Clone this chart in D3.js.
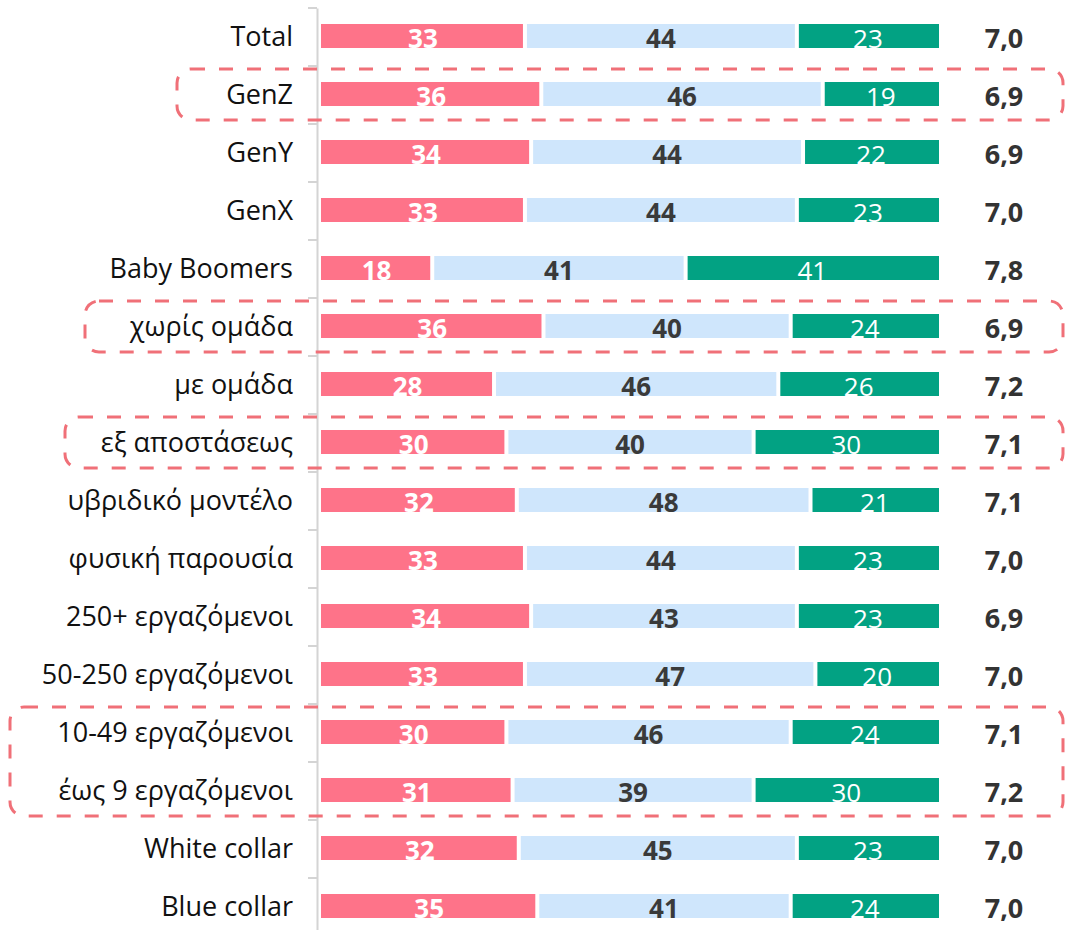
<!DOCTYPE html>
<html>
<head>
<meta charset="utf-8">
<script src="https://cdn.jsdelivr.net/npm/d3@7"></script>
<style>
  body { margin: 0; background: #fff; }
</style>
</head>
<body>
<div id="chart"></div>
<script>
const categories = ['Total', 'GenZ', 'GenY', 'GenX', 'Baby Boomers', 'χωρίς ομάδα', 'με ομάδα',
  'εξ αποστάσεως', 'υβριδικό μοντέλο', 'φυσική παρουσία', '250+ εργαζόμενοι', '50-250 εργαζόμενοι',
  '10-49 εργαζόμενοι', 'έως 9 εργαζόμενοι', 'White collar', 'Blue collar'];
const low = [33, 36, 34, 33, 18, 36, 28, 30, 32, 33, 34, 33, 30, 31, 32, 35];
const mid = [44, 46, 44, 44, 41, 40, 46, 40, 48, 44, 43, 47, 46, 39, 45, 41];
const high = [23, 19, 22, 23, 41, 24, 26, 30, 21, 23, 23, 20, 24, 30, 23, 24];
const scores = [7.0, 6.9, 6.9, 7.0, 7.8, 6.9, 7.2, 7.1, 7.1, 7.0, 6.9, 7.0, 7.1, 7.2, 7.0, 7.0];

// highlighted groups: first and last category, left edge of the box
const highlights = [
  { from: 'GenZ', to: 'GenZ', left: 177 },
  { from: 'χωρίς ομάδα', to: 'χωρίς ομάδα', left: 85 },
  { from: 'εξ αποστάσεως', to: 'εξ αποστάσεως', left: 65 },
  { from: '10-49 εργαζόμενοι', to: 'έως 9 εργαζόμενοι', left: 10 }
];

const width = 1066, height = 930;
const colors = ['#fe7389', '#cfe6fc', '#02a283'];
const textColors = ['#ffffff', '#3a3a3a', '#ffffff'];
const textWeights = ['bold', 'bold', 'normal'];
const font = "'Open Sans', 'Noto Sans', sans-serif";

const svg = d3.select('#chart').append('svg')
  .attr('width', width).attr('height', height)
  .style('font-family', font);

const y = d3.scaleBand().domain(categories).range([8, 936]).padding(0);
const x = d3.scaleLinear().domain([0, 100]).range([321, 939]);
const barH = 24;

const rows = categories.map((c, i) => {
  const vals = [low[i], mid[i], high[i]];
  const sum = d3.sum(vals);
  let acc = 0;
  const segs = vals.map((v, k) => {
    const s = { cat: c, k, v, x0: acc / sum * 100, x1: (acc + v) / sum * 100 };
    acc += v;
    return s;
  });
  return { cat: c, segs, score: scores[i] };
});

// axis
svg.append('g')
  .attr('transform', `translate(317,0)`)
  .call(d3.axisLeft(y).tickSize(0).tickFormat(''))
  .call(g => g.select('.domain').attr('stroke', '#d4d4d4').attr('stroke-width', 2))
  .call(g => g.selectAll('.boundary')
    .data(categories.concat(['end']))
    .join('line')
    .attr('class', 'boundary')
    .attr('x1', -9).attr('x2', 0)
    .attr('y1', (d, i) => i < categories.length ? y(d) : y.range()[1])
    .attr('y2', (d, i) => i < categories.length ? y(d) : y.range()[1])
    .attr('stroke', '#d4d4d4').attr('stroke-width', 2));

// category labels
svg.append('g').selectAll('text')
  .data(categories)
  .join('text')
  .attr('x', 293)
  .attr('y', d => y(d) + y.bandwidth() / 2)
  .attr('dy', '0.35em')
  .attr('text-anchor', 'end')
  .attr('font-size', 27)
  .attr('fill', '#111')
  .text(d => d);

// bars
const rowG = svg.append('g').selectAll('g')
  .data(rows)
  .join('g')
  .attr('transform', d => `translate(0,${y(d.cat) + y.bandwidth() / 2 - 1})`);

rowG.selectAll('rect')
  .data(d => d.segs)
  .join('rect')
  .attr('x', d => x(d.x0) + (d.k > 0 ? 2 : 0))
  .attr('width', d => x(d.x1) - x(d.x0) - (d.k > 0 ? 2 : 0) - (d.k < 2 ? 2 : 0))
  .attr('y', -barH / 2)
  .attr('height', barH)
  .attr('fill', d => colors[d.k]);

rowG.selectAll('text.val')
  .data(d => d.segs)
  .join('text')
  .attr('class', 'val')
  .attr('x', d => (x(d.x0) + x(d.x1)) / 2)
  .attr('y', 3)
  .attr('dy', '0.35em')
  .attr('text-anchor', 'middle')
  .attr('font-size', 26)
  .attr('font-weight', d => textWeights[d.k])
  .attr('fill', d => textColors[d.k])
  .text(d => d.v);

// scores
svg.append('g').selectAll('text')
  .data(rows)
  .join('text')
  .attr('x', 1004)
  .attr('y', d => y(d.cat) + y.bandwidth() / 2 + 2)
  .attr('dy', '0.35em')
  .attr('text-anchor', 'middle')
  .attr('font-size', 27)
  .attr('font-weight', 'bold')
  .attr('fill', '#333')
  .text(d => d3.format('.1f')(d.score).replace('.', ','));

// dashed highlight boxes
svg.append('g').selectAll('rect')
  .data(highlights)
  .join('rect')
  .attr('x', d => d.left)
  .attr('y', d => y(d.from) + 3)
  .attr('width', d => 1063 - d.left)
  .attr('height', d => y(d.to) + y.bandwidth() - 4 - (y(d.from) + 3))
  .attr('rx', 14)
  .attr('fill', 'none')
  .attr('stroke', '#f07078')
  .attr('stroke-width', 3)
  .attr('stroke-dasharray', '14 14');
</script>
</body>
</html>
